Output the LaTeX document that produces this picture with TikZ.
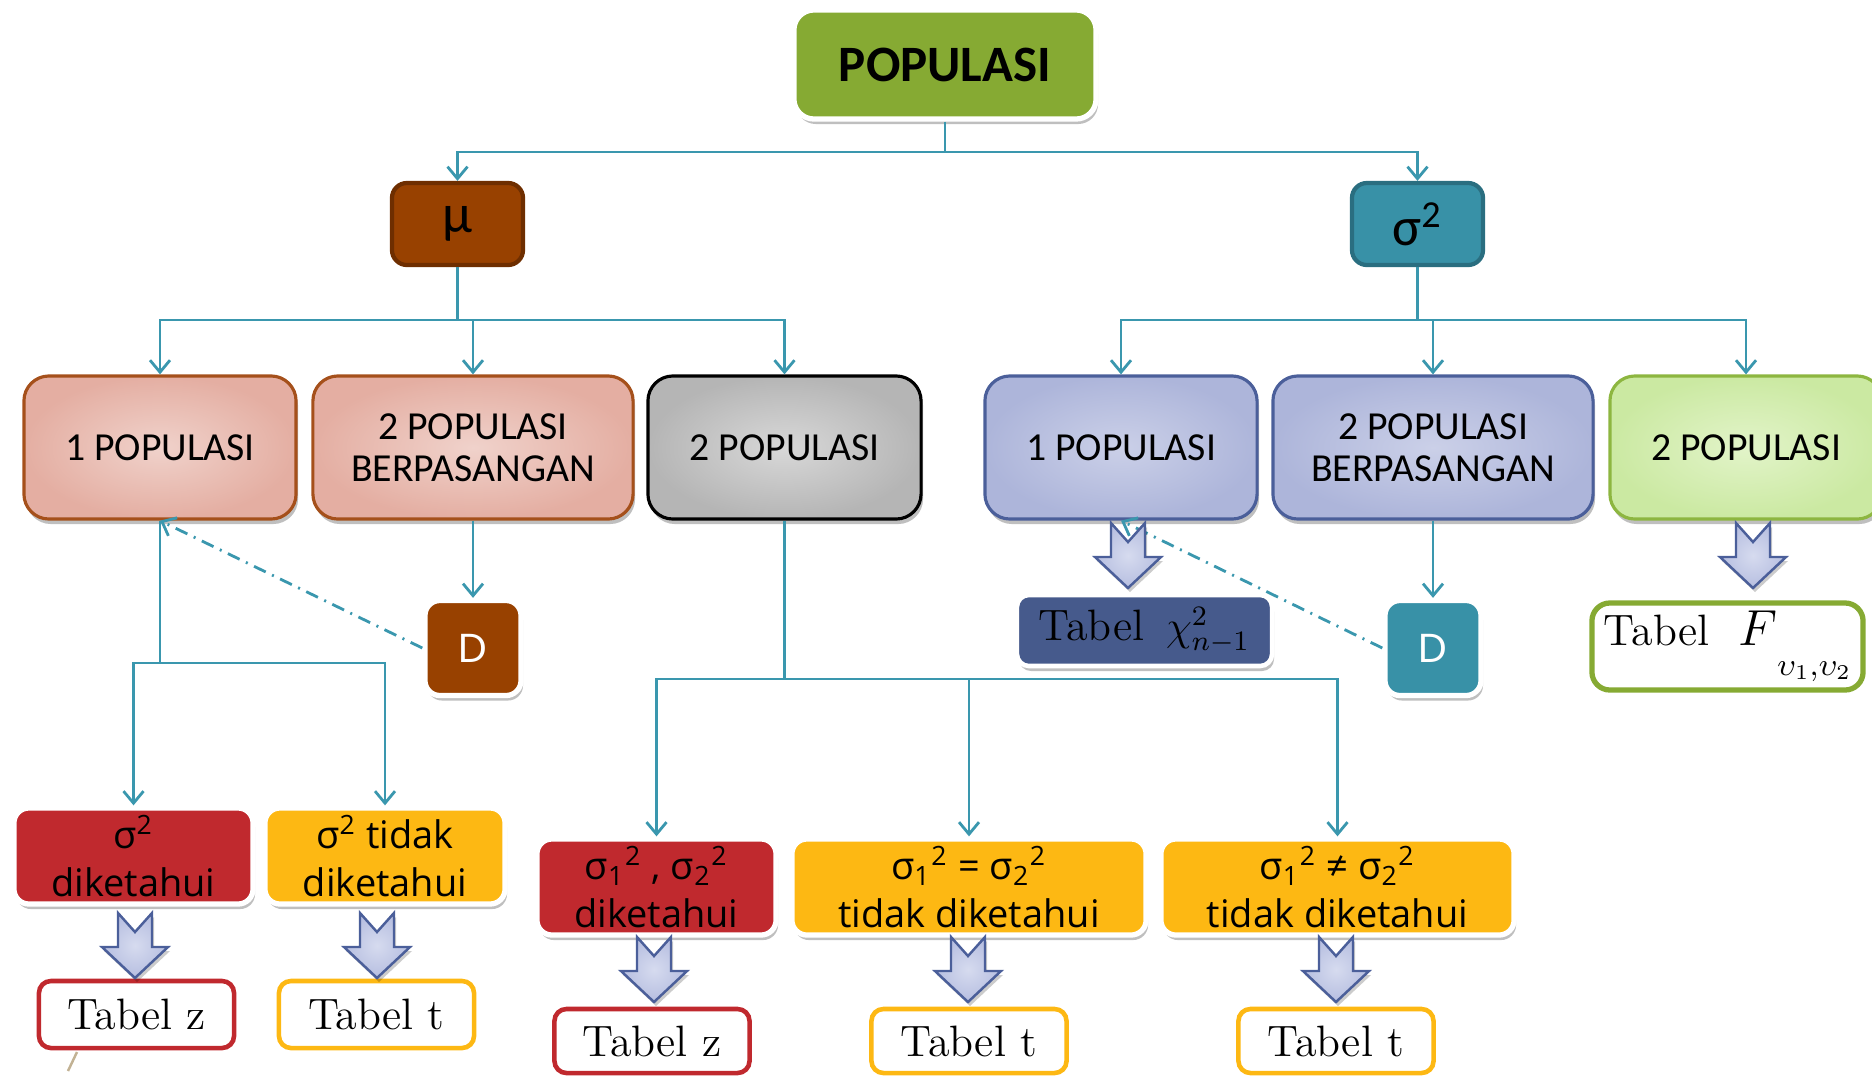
\documentclass[tikz,border=0pt]{standalone}
\usepackage{fontspec}
\usetikzlibrary{arrows.meta,shadows,calc}
\newfontfamily\gillf{Carlito}
\newfontfamily\comicf{Open Sans}
\newfontfamily\geof{Poppins}
\definecolor{cgreen}{HTML}{86AA33}
\definecolor{cbrown}{HTML}{984100}
\definecolor{cbrownd}{HTML}{6E2E00}
\definecolor{cteal}{HTML}{3891A7}
\definecolor{ctealD}{HTML}{2A6E80}
\definecolor{cline}{HTML}{3A97AE}
\definecolor{pinkin}{HTML}{F0D2CB}
\definecolor{pinkout}{HTML}{E4AEA2}
\definecolor{pinkbd}{HTML}{A5501B}
\definecolor{grayin}{HTML}{D8D8D8}
\definecolor{grayout}{HTML}{B5B5B5}
\definecolor{bluein}{HTML}{CBD0E8}
\definecolor{blueout}{HTML}{ADB5DA}
\definecolor{bluebd}{HTML}{4B5F9A}
\definecolor{greenin}{HTML}{E2F4C9}
\definecolor{greenout}{HTML}{CBE9A2}
\definecolor{greenbd}{HTML}{8DB640}
\definecolor{cred}{HTML}{C0292E}
\definecolor{cyel}{HTML}{FDB813}
\definecolor{chic}{HTML}{465A8C}
\definecolor{arrin}{HTML}{D6DBEF}
\definecolor{arrout}{HTML}{B6BEE0}
\definecolor{tanc}{HTML}{C2B294}
\tikzset{
  shad/.style={drop shadow={shadow xshift=0.02cm,shadow yshift=-0.05cm,opacity=0.25,fill=black}},
  box/.style={rectangle, rounded corners=0.2cm, align=center, inner sep=0pt},
  topbox/.style={box, shad, fill=cgreen, draw=white, line width=1.5pt, minimum width=3.02cm, minimum height=1.09cm, font=\gillf\bfseries\fontsize{14.5}{16}\selectfont},
  greek/.style={box, rounded corners=0.15cm, line width=1.2pt, minimum width=1.31cm, minimum height=0.82cm, font=\gillf\fontsize{15.5}{18}\selectfont},
  popbox/.style={box, shad, rounded corners=0.25cm, line width=0.9pt, minimum height=1.43cm, font=\gillf\fontsize{11.3}{11.8}\selectfont},
  pinkb/.style={popbox, draw=pinkbd, inner color=pinkin, outer color=pinkout},
  grayb/.style={popbox, draw=black, inner color=grayin, outer color=grayout},
  blueb/.style={popbox, draw=bluebd, inner color=bluein, outer color=blueout},
  greenb/.style={popbox, draw=greenbd, inner color=greenin, outer color=greenout},
  condbox/.style={box, shad, rounded corners=0.15cm, draw=white, line width=1.5pt, minimum height=0.96cm, font=\comicf\fontsize{10.8}{13.5}\selectfont},
  tabbox/.style={box, rounded corners=0.12cm, fill=white, line width=1.3pt, minimum height=0.67cm, minimum width=1.95cm, font=\fontsize{12.5}{14}\selectfont},
  dbox/.style={box, shad, rounded corners=0.15cm, draw=white, line width=1.5pt, minimum width=0.96cm, minimum height=0.95cm, text=white, font=\geof\fontsize{11.5}{13}\selectfont},
  conn/.style={draw=cline, line width=0.8pt},
  arr/.style={conn, -{Straight Barb[length=0.12cm,width=0.2cm,line width=0.8pt]}},
  ddarr/.style={arr, dash pattern=on 0.13cm off 0.07cm on 0.02cm off 0.07cm},
  barrow/.style={draw=bluebd, line width=0.7pt, inner color=arrin, outer color=arrout, drop shadow={shadow xshift=0.02cm,shadow yshift=-0.04cm,opacity=0.2,fill=black}}
}
\begin{document}
\begin{tikzpicture}[x=0.01cm,y=-0.01cm]
\useasboundingbox (0,0) rectangle (1872,1075);
% bus levels
\coordinate (yA) at (0,152);
\coordinate (yB) at (0,320);
\coordinate (yC) at (0,663);
\coordinate (yD) at (0,679);
% top
\node[topbox] (pop) at (945,64.5) {POPULASI};
\node[greek, fill=cbrown, draw=cbrownd] (mu) at (457.5,224) {μ};
\node[greek, fill=cteal, draw=ctealD] (sig) at (1417.5,224) {σ\textsuperscript{2}};
% row 2
\node[pinkb, minimum width=2.72cm] (p1) at (160,447.5) {1 POPULASI};
\node[pinkb, minimum width=3.20cm] (p2) at (473,447.5) {2 POPULASI\\BERPASANGAN};
\node[grayb, minimum width=2.73cm] (p3) at (784.5,447.5) {2 POPULASI};
\node[blueb, minimum width=2.72cm] (b1) at (1121,447.5) {1 POPULASI};
\node[blueb, minimum width=3.20cm] (b2) at (1433,447.5) {2 POPULASI\\BERPASANGAN};
\node[greenb, minimum width=2.72cm] (g1) at (1746,447.5) {2 POPULASI};
% D boxes
\node[dbox, fill=cbrown] (d1) at (473,648) {D};
\node[dbox, fill=cteal] (d2) at (1433,648) {D};
% condition boxes
\node[condbox, fill=cred, minimum width=2.39cm] (r1) at (133.5,856) {σ\textsuperscript{2}\\diketahui};
\node[condbox, fill=cyel, minimum width=2.40cm] (y1) at (385,856) {σ\textsuperscript{2} tidak\\diketahui};
\node[condbox, fill=cred, minimum width=2.39cm] (r2) at (656.5,887) {σ\textsubscript{1}\textsuperscript{2} , σ\textsubscript{2}\textsuperscript{2}\\diketahui};
\node[condbox, fill=cyel, minimum width=3.54cm] (y2) at (969,887) {σ\textsubscript{1}\textsuperscript{2} = σ\textsubscript{2}\textsuperscript{2}\\tidak diketahui};
\node[condbox, fill=cyel, minimum width=3.53cm] (y3) at (1337.5,887) {σ\textsubscript{1}\textsuperscript{2} ≠ σ\textsubscript{2}\textsuperscript{2}\\tidak diketahui};
% tables
\node[tabbox, draw=cred] (tz1) at (136.5,1014.5) {Tabel z};
\node[tabbox, draw=cyel] (tt1) at (376.5,1014.5) {Tabel t};
\node[tabbox, draw=cred, minimum height=0.64cm] (tz2) at (652,1041) {Tabel z};
\node[tabbox, draw=cyel, minimum height=0.64cm] (tt2) at (969,1041) {Tabel t};
\node[tabbox, draw=cyel, minimum height=0.64cm] (tt3) at (1336,1041) {Tabel t};
\node[box, shad, fill=chic, draw=white, line width=1.3pt, rounded corners=0.12cm, minimum width=2.55cm, minimum height=0.71cm, font=\fontsize{12.5}{14}\selectfont] (chi) at (1144.5,630.5) {Tabel\enspace{\large$\chi^{2}_{n-1}$}};
\node[tabbox, draw=cgreen, line width=1.5pt, rounded corners=0.18cm, minimum width=2.71cm, minimum height=0.87cm] (tf) at (1727.5,646.5) {Tabel\enspace\,{\Large$F$}\raisebox{-1.6ex}{$\scriptstyle\upsilon_1{,}\upsilon_2$}};
% connectors
\draw[arr] (pop.south) -- (pop.south |- yA) -| (mu.north);
\draw[arr] (pop.south |- yA) -| (sig.north);
\draw[arr] (mu.south) -- (mu.south |- yB) -| (p1.north);
\draw[arr] (mu.south |- yB) -| (p2.north);
\draw[arr] (mu.south |- yB) -| (p3.north);
\draw[arr] (sig.south) -- (sig.south |- yB) -| (b1.north);
\draw[arr] (sig.south |- yB) -| (b2.north);
\draw[arr] (sig.south |- yB) -| (g1.north);
\draw[arr] (p2.south) -- (d1.north);
\draw[ddarr] (d1.west) -- (p1.south);
\draw[arr] (p1.south) -- (p1.south |- yC) -| (r1.north);
\draw[arr] (p1.south |- yC) -| (y1.north);
\draw[arr] (p3.south) -- (p3.south |- yD) -| (r2.north);
\draw[arr] (p3.south |- yD) -| (y2.north);
\draw[arr] (p3.south |- yD) -| (y3.north);
\draw[arr] (b2.south) -- (d2.north);
\draw[ddarr] (d2.west) -- (b1.south);
% block arrows
\foreach \cx/\ty in {135/913, 377/913, 654/937, 968/937, 1336/937, 1128/523, 1753/523}{
  \draw[barrow, shift={(\cx,\ty)}] (-17,0) -- (0,19) -- (17,0) -- (17,34) -- (33,34) -- (0,65) -- (-33,34) -- (-17,34) -- cycle;
}
% stray mark
\draw[tanc, line width=0.7pt] (77,1052) -- (68,1071);
\end{tikzpicture}
\end{document}
